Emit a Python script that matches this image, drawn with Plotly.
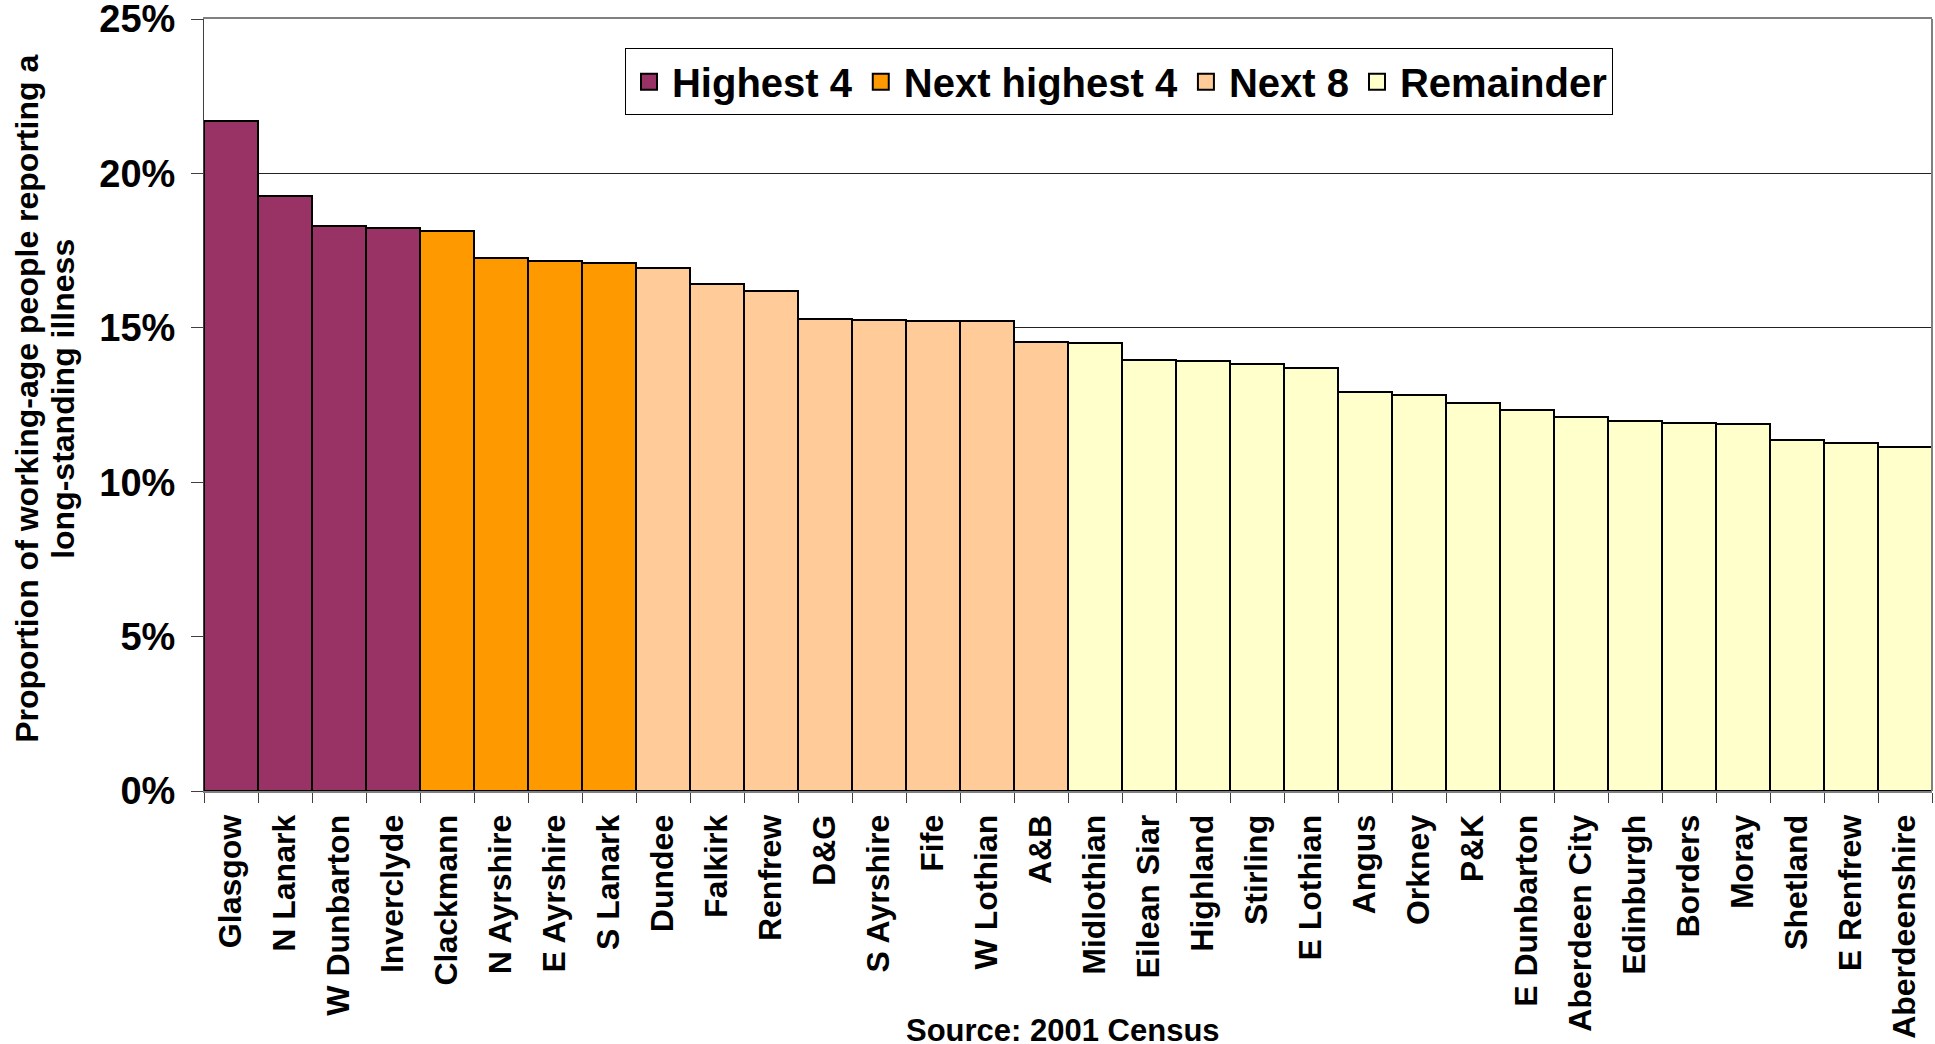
import plotly.graph_objects as go

categories = ["Glasgow", "N Lanark", "W Dunbarton", "Inverclyde",
              "Clackmann", "N Ayrshire", "E Ayrshire", "S Lanark",
              "Dundee", "Falkirk", "Renfrew", "D&G", "S Ayrshire", "Fife", "W Lothian", "A&B",
              "Midlothian", "Eilean Siar", "Highland", "Stirling", "E Lothian", "Angus", "Orkney",
              "P&K", "E Dunbarton", "Aberdeen City", "Edinburgh", "Borders", "Moray", "Shetland",
              "E Renfrew", "Aberdeenshire"]
values = [21.69, 19.28, 18.31, 18.22,
          18.12, 17.27, 17.17, 17.10,
          16.94, 16.41, 16.18, 15.27, 15.24, 15.23, 15.22, 14.53,
          14.50, 13.97, 13.91, 13.83, 13.69, 12.93, 12.84,
          12.57, 12.33, 12.10, 11.99, 11.91, 11.89, 11.36,
          11.28, 11.13]
group_names = ["Highest 4", "Next highest 4", "Next 8", "Remainder"]
group_sizes = [4, 4, 8, 16]
group_colors = ["#993366", "#FF9900", "#FFCC99", "#FFFFCC"]
y_ticks = [0, 5, 10, 15, 20, 25]
y_tick_labels = ["0%", "5%", "10%", "15%", "20%", "25%"]

FONT = "Liberation Sans, Arial, sans-serif"

fig = go.Figure()
start = 0
for name, size, color in zip(group_names, group_sizes, group_colors):
    fig.add_trace(go.Bar(
        x=categories[start:start + size],
        y=values[start:start + size],
        name=name, legendgroup=name, showlegend=False,
        marker=dict(color=color, line=dict(color="black", width=2)),
    ))
    # legend entry with a larger square swatch
    fig.add_trace(go.Scatter(
        x=[None], y=[None], mode="markers", name=name, legendgroup=name,
        marker=dict(symbol="square", size=16, color=color, line=dict(color="black", width=2)),
        hoverinfo="skip",
    ))
    start += size

fig.update_layout(
    template="none",
    width=1935, height=1044,
    margin=dict(l=204, r=3, t=19, b=253, autoexpand=False),
    paper_bgcolor="white", plot_bgcolor="white",
    barmode="overlay", bargap=0,
    font=dict(family=FONT, color="black", weight="bold"),
    showlegend=True,
    legend=dict(
        orientation="h", x=0.5295, xanchor="center", y=0.962, yanchor="top",
        bordercolor="black", borderwidth=1, bgcolor="white",
        font=dict(size=40, family=FONT, weight="bold"),
        traceorder="normal", itemwidth=36,
    ),
    xaxis=dict(
        type="category", categoryorder="array", categoryarray=categories,
        tickangle=-90, tickfont=dict(size=32, family=FONT, weight="bold"),
        ticks="outside", tickson="boundaries", ticklen=10, tickcolor="#404040",
        showline=True, linecolor="#808080", linewidth=2, mirror=True,
        showgrid=False, ticklabelstandoff=9, automargin=False,
        ticklabeloverflow="allow",
    ),
    yaxis=dict(
        range=[0, 25], tickmode="array", tickvals=y_ticks, ticktext=y_tick_labels,
        tickfont=dict(size=38, family=FONT, weight="bold"),
        ticks="outside", ticklen=12, tickcolor="#404040",
        showline=True, linecolor="#404040", linewidth=1,
        showgrid=True, gridcolor="#222222", gridwidth=1,
        zeroline=False, ticklabelstandoff=8, automargin=False,
        ticklabeloverflow="allow",
    ),
    shapes=[dict(type="line", xref="paper", yref="paper", x0=1, x1=1, y0=0, y1=1,
                 line=dict(color="#808080", width=2))],
    annotations=[
        dict(text="Proportion of working-age people reporting a",
             xref="paper", yref="paper", x=(27 - 204) / 1728, y=0.508,
             xanchor="center", yanchor="middle",
             textangle=-90, showarrow=False,
             font=dict(size=32, family=FONT, weight="bold")),
        dict(text="long-standing illness",
             xref="paper", yref="paper", x=(63 - 204) / 1728, y=0.508,
             xanchor="center", yanchor="middle",
             textangle=-90, showarrow=False,
             font=dict(size=32, family=FONT, weight="bold")),
        dict(text="Source: 2001 Census", xref="paper", yref="paper", x=0.497, y=-0.3105,
             xanchor="center", yanchor="middle", showarrow=False,
             font=dict(size=31, family=FONT, weight="bold")),
    ],
)

fig.write_html(
    "out.html",
    config={"displayModeBar": False},
    post_script="document.body.style.margin='0';document.body.style.overflow='hidden';",
)
